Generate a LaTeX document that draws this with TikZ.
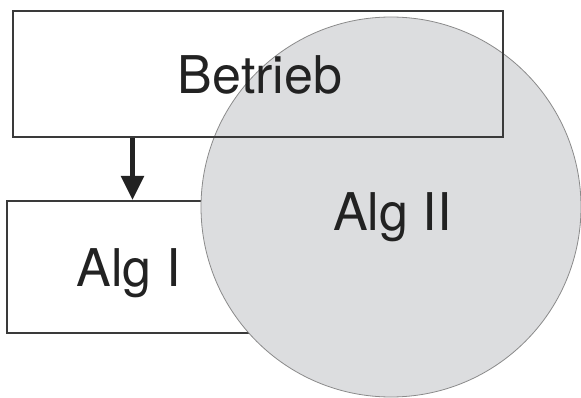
\documentclass[tikz,border=0pt]{standalone}
\usepackage{fontspec}
\setmainfont{TeX Gyre Heros}
\usetikzlibrary{arrows.meta}
\definecolor{ink}{HTML}{222222}
\definecolor{frame}{HTML}{3A3A3A}
\definecolor{disc}{HTML}{DCDDDF}
\definecolor{discline}{HTML}{8A8A8A}
\tikzset{
  box/.style={draw=frame, line width=2pt, rectangle, inner sep=0pt},
  lbl/.style={text=ink, font=\fontsize{52}{60}\selectfont, inner sep=0pt, anchor=base},
  arr/.style={draw=ink, line width=5.5pt, -{Triangle[width=22pt,length=24pt]}},
}
\begin{document}
\begin{tikzpicture}[x=1pt,y=1pt]
\useasboundingbox (0,0) rectangle (581,-398);
% Alg I box (under the circle)
\node[box, fill=white, minimum width=255pt, minimum height=132pt] (algIbox) at (134.5,-267) {};
% Alg II circle
\node[circle, fill=disc, draw=discline, line width=0.8pt, minimum size=380pt, inner sep=0pt] (algIIcirc) at (391,-207) {};
% Betrieb box (outline above the circle)
\node[box, minimum width=490pt, minimum height=126pt] (betriebbox) at (258,-74) {};
% Labels
\node[lbl] (betrieb) at (260,-94) {Betrieb};
\node[lbl] (algI) at (128.5,-287) {Alg I};
\node[lbl] (algII) at (392.5,-230) {Alg II};
% Arrow
\coordinate (ax) at (132.5,0);
\draw[arr] (betriebbox.south -| ax) -- (algIbox.north -| ax);
\end{tikzpicture}
\end{document}
